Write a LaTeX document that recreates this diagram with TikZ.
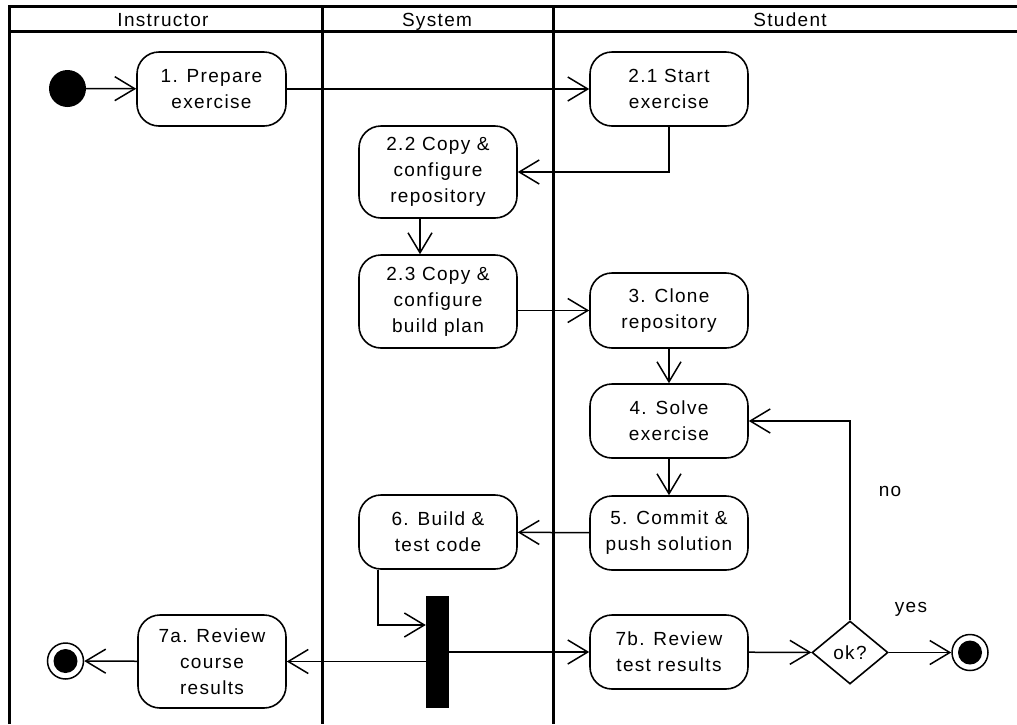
\documentclass[tikz,border=0pt]{standalone}
\usepackage{fontspec}
\setmainfont{Liberation Sans}[LetterSpace=7]
\usetikzlibrary{arrows.meta,shapes.geometric}

\begin{document}
\begin{tikzpicture}[x=1pt,y=-1pt,
  every node/.style={font=\fontsize{19}{26}\selectfont},
  action/.style={draw, line width=1.6pt, rounded corners=22pt, align=center,
    inner sep=0pt, fill=white},
  flow/.style={line width=1.5pt, -{Straight Barb[length=20pt,width=24pt]}},
  lane/.style={line width=3pt},
  lanetitle/.style={anchor=base, inner sep=0pt},
  start/.style={circle, fill=black, minimum size=37pt, inner sep=0pt},
  stop/.style={circle, draw, line width=1.5pt, fill=white, minimum size=36pt,
    inner sep=0pt,
    path picture={\fill[black] (path picture bounding box.center) circle (12pt);}},
  choice/.style={diamond, draw, line width=1.6pt, fill=white, inner sep=0pt,
    minimum width=76pt, minimum height=63pt},
  bar/.style={fill=black, minimum width=23pt, minimum height=112pt, inner sep=0pt},
  guard/.style={inner sep=0pt}]

\useasboundingbox (0,0) rectangle (1017,724);

% swimlanes
\draw[lane] (9,724) -- (9,6) -- (1017,6);
\draw[lane] (9,31) -- (1017,31);
\draw[lane] (322,6) -- (322,724);
\draw[lane] (553,6) -- (553,724);
\node[lanetitle] (hInstr) at (163,26.5) {Instructor};
\node[lanetitle] (hSys) at (437,26.5) {System};
\node[lanetitle] (hStud) at (790,26.5) {Student};

% activities
\node[start] (init) at (67.5,88.5) {};
\node[action, minimum width=149pt, minimum height=74pt] (n1) at (211.5,89) {1. Prepare\\exercise};
\node[action, minimum width=158pt, minimum height=74pt] (n21) at (669,89) {2.1 Start\\exercise};
\node[action, minimum width=158pt, minimum height=92pt] (n22) at (438,172) {2.2 Copy \&\\configure\\repository};
\node[action, minimum width=158pt, minimum height=93pt] (n23) at (438,301.5) {2.3 Copy \&\\configure\\build plan};
\node[action, minimum width=158pt, minimum height=75pt] (n3) at (669,310.5) {3. Clone\\repository};
\node[action, minimum width=158pt, minimum height=74pt] (n4) at (669,421) {4. Solve\\exercise};
\node[action, minimum width=158pt, minimum height=74pt] (n5) at (669,533) {5. Commit \&\\push solution};
\node[action, minimum width=158pt, minimum height=74pt] (n6) at (438,532) {6. Build \&\\test code};
\node[bar] (fork) at (437.5,652) {};
\node[action, minimum width=148pt, minimum height=93pt] (n7a) at (212,661.5) {7a. Review\\course\\results};
\node[action, minimum width=158pt, minimum height=74pt] (n7b) at (669,652) {7b. Review\\test results};
\node[choice] (ok) at (850,652.5) {ok?};
\node[stop] (end1) at (65.5,661) {};
\node[stop] (end2) at (970,652.5) {};

% control flow
\draw[flow] (init) -- (n1);
\draw[flow] (n1) -- (n21);
\draw[flow] (n21.south) |- (n22.east);
\draw[flow] ([xshift=-18pt]n22.south) -- ([xshift=-18pt]n23.north);
\draw[flow] (n23.east |- n3.west) -- (n3.west);
\draw[flow] (n3) -- (n4);
\draw[flow] (n4) -- (n5);
\draw[flow] (n5) -- (n6);
\draw[flow] ([xshift=-60pt]n6.south) |- ([yshift=27pt]fork.west);
\draw[flow] (fork.west |- n7a.east) -- (n7a.east);
\draw[flow] (fork.east |- n7b.west) -- (n7b.west);
\draw[flow] (n7a) -- (end1);
\draw[flow] (n7b) -- (ok);
\draw[flow] (ok) -- (end2);
\draw[flow] (ok.north) |- (n4.east);

% guards
\node[guard] (gNo) at (890,491) {no};
\node[guard] (gYes) at (911,609) {yes};
\end{tikzpicture}
\end{document}
